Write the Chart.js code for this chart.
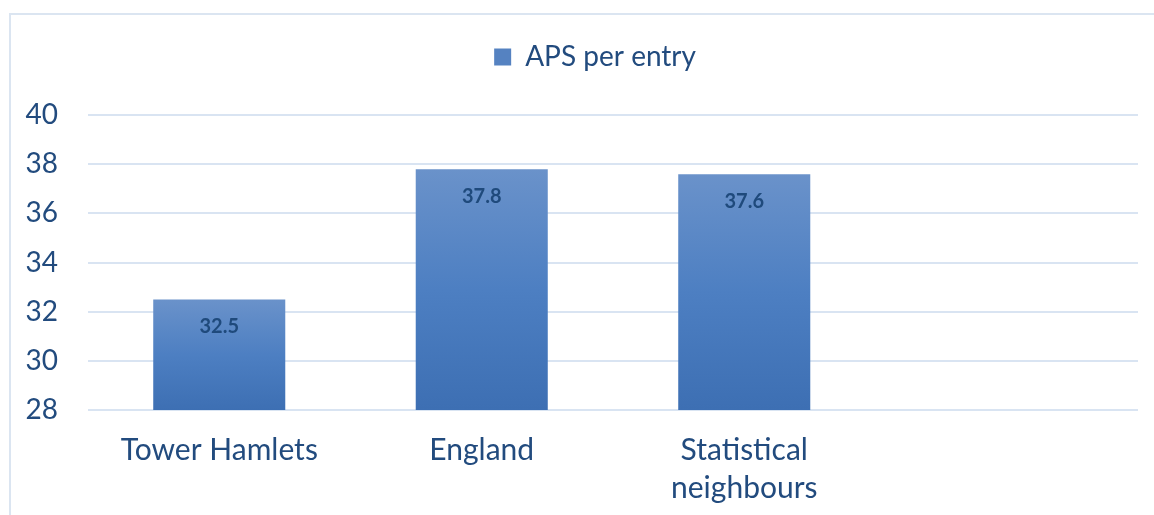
<!DOCTYPE html>
<html>
<head>
<meta charset="utf-8">
<script src="https://cdn.jsdelivr.net/npm/chart.js@4"></script>
<style>
  html, body { margin: 0; padding: 0; background: #fff; }
  #wrap { position: relative; width: 1154px; height: 515px; overflow: hidden; }
  #frame { position: absolute; left: 9px; top: 13px; width: 1200px; height: 600px;
           border-top: 2px solid #dbe5f1; border-left: 2px solid #dbe5f1; }
  #chart { position: absolute; left: 0; top: 0; }
</style>
</head>
<body>
<div id="wrap">
  <div id="frame"></div>
  <canvas id="chart" width="1154" height="515"></canvas>
</div>
<script>
var categories = ['Tower Hamlets', 'England', ['Statistical', 'neighbours'], ''];
var apsPerEntry = [32.5, 37.8, 37.6, null];
var seriesName = 'APS per entry';
var yMin = 28, yMax = 40, yStep = 2;

var textColor = '#224b7e';
var gridColor = '#d9e4f2';
var fontName = 'Lato';

// gradient for each bar, from its own top down to the axis
function barFill(ctx) {
    var chart = ctx.chart;
    var y = chart.scales.y;
    var v = ctx.raw;
    if (!chart.chartArea || !y || v == null) return '#5582c1';
    var top = y.getPixelForValue(v);
    var bottom = y.getPixelForValue(yMin);
    if (!isFinite(top) || !isFinite(bottom)) return '#5582c1';
    var g = chart.ctx.createLinearGradient(0, top, 0, bottom);
    g.addColorStop(0, '#6a92ca');
    g.addColorStop(0.5, '#4d7fc2');
    g.addColorStop(1, '#3d6fb3');
    return g;
}

var valueLabels = {
    id: 'valueLabels',
    afterDatasetsDraw: function(chart) {
        var c = chart.ctx;
        var meta = chart.getDatasetMeta(0);
        c.save();
        c.font = 'bold 20px ' + fontName;
        c.fillStyle = '#1f4a7c';
        c.textAlign = 'center';
        c.textBaseline = 'middle';
        meta.data.forEach(function(bar, i) {
            var v = apsPerEntry[i];
            if (v == null) return;
            c.fillText(v.toFixed(1), bar.x, bar.y + 27);
        });
        c.restore();
    }
};

var chart = new Chart(document.getElementById('chart'), {
    type: 'bar',
    data: {
        labels: categories,
        datasets: [{
            label: seriesName,
            data: apsPerEntry,
            backgroundColor: barFill,
            borderWidth: 0,
            barPercentage: 0.503,
            categoryPercentage: 1
        }]
    },
    options: {
        responsive: false,
        animation: false,
        layout: { padding: { left: 10, right: 16, top: 0, bottom: 5 } },
        plugins: {
            tooltip: { enabled: false },
            legend: {
                position: 'top',
                fullSize: false,
                labels: {
                    color: textColor,
                    font: { family: fontName, size: 28 },
                    boxWidth: 17,
                    boxHeight: 17,
                    padding: 43,
                    generateLabels: function() {
                        // trailing spaces nudge the item a little left of the plot centre
                        return [{ text: seriesName + '     ', fillStyle: '#5582c1', strokeStyle: '#5582c1',
                                  lineWidth: 0, fontColor: textColor, datasetIndex: 0 }];
                    }
                }
            },
            // empty title below the legend, only used as a spacer
            title: {
                display: true,
                text: ' ',
                weight: 500,
                font: { size: 1 },
                padding: { top: 0, bottom: 33 }
            }
        },
        scales: {
            x: {
                grid: { display: false, drawTicks: false },
                border: { display: false },
                ticks: {
                    color: textColor,
                    font: { family: fontName, size: 30, lineHeight: 1.27 },
                    padding: 21,
                    maxRotation: 0,
                    autoSkip: false
                },
                afterFit: function(s) { s.height = 100; }
            },
            y: {
                min: yMin,
                max: yMax,
                grid: { color: gridColor, lineWidth: 2, drawTicks: false },
                border: { display: false },
                ticks: {
                    stepSize: yStep,
                    color: textColor,
                    font: { family: fontName, size: 28 },
                    padding: 30
                },
                afterFit: function(s) { s.width = 78; }
            }
        }
    },
    plugins: [valueLabels]
});
</script>
</body>
</html>
